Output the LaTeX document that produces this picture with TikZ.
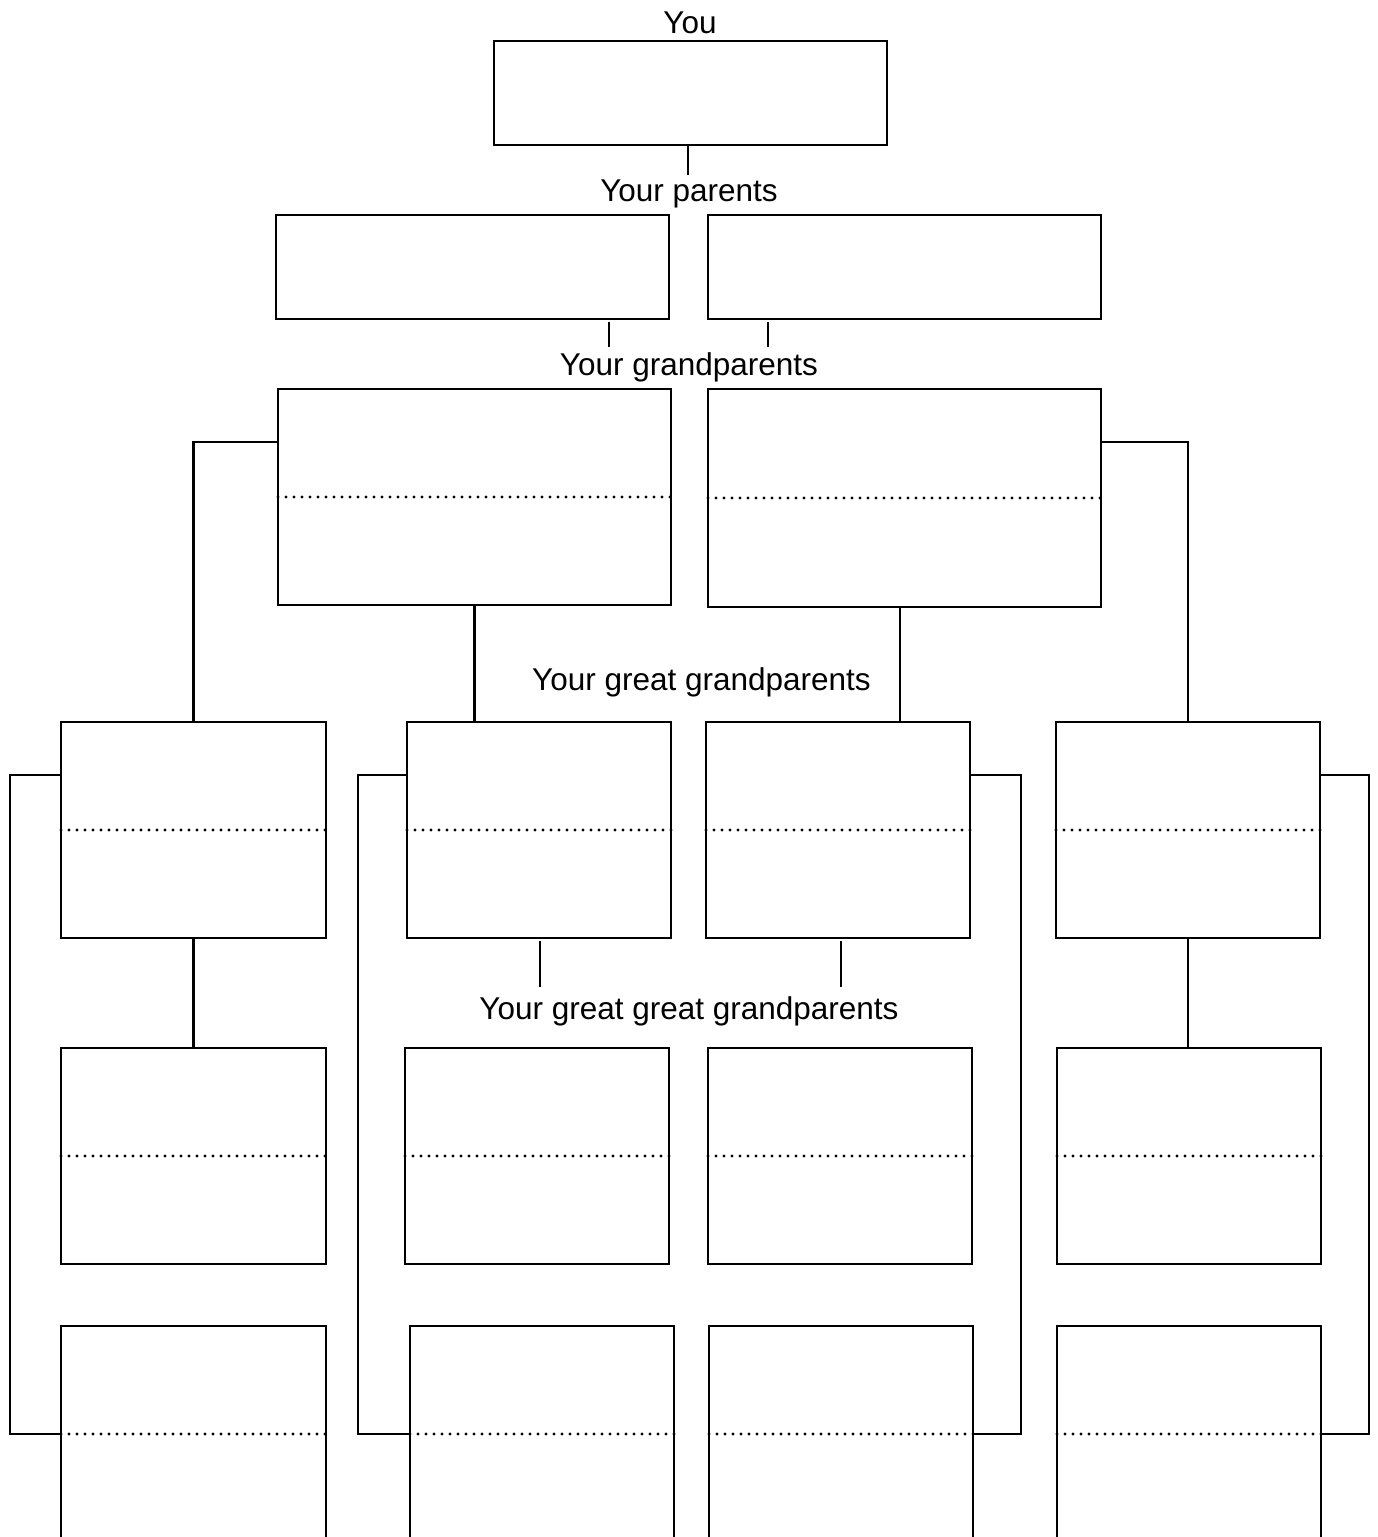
\documentclass[tikz,border=0pt]{standalone}
\usepackage{fontspec}
\setmainfont{Liberation Sans}
\begin{document}
\begin{tikzpicture}[x=1pt,y=-1pt,
  line width=2.6pt,
  box/.style={draw=black,line width=2.6pt,rectangle,inner sep=0pt,outer sep=0pt},
  bigbox/.style={box,minimum width=393pt,minimum height=104pt},
  midbox/.style={box,minimum width=393pt,minimum height=216pt},
  smallbox/.style={box,minimum width=264pt,minimum height=216pt},
  lbl/.style={anchor=base,inner sep=0pt,font=\fontsize{31.5pt}{36pt}\selectfont},
  dotline/.style={line width=3.2pt,line cap=round,dash pattern=on 0pt off 8pt},
  conn/.style={line width=2.6pt}]
\useasboundingbox (0,0) rectangle (1378,1537);
\clip (0,0) rectangle (1378,1537);
\fill[white] (0,0) rectangle (1378,1537);

% labels
\node[lbl] (tyou) at (690,33) {You};
\node[lbl] (tpar) at (689,201.5) {Your parents};
\node[lbl] (tgp) at (689,375.5) {Your grandparents};
\node[lbl] (tggp) at (701.5,690.5) {Your great grandparents};
\node[lbl] (tgggp) at (689,1019.5) {Your great great grandparents};

% you
\node[bigbox] (you) at (690.5,93) {};
% parents
\node[bigbox] (p1) at (472.5,267) {};
\node[bigbox] (p2) at (904.5,267) {};
% grandparents
\node[midbox] (g1) at (474.5,497) {};
\node[midbox,minimum height=218pt] (g2) at (904.5,498) {};
% great grandparents
\node[smallbox,minimum width=265pt] (gg1) at (193.5,830) {};
\node[smallbox] (gg2) at (539,830) {};
\node[smallbox] (gg3) at (838,830) {};
\node[smallbox] (gg4) at (1188,830) {};
% great great grandparents row 1
\node[smallbox,minimum width=265pt] (h1) at (193.5,1156) {};
\node[smallbox] (h2) at (537,1156) {};
\node[smallbox] (h3) at (840,1156) {};
\node[smallbox] (h4) at (1189,1156) {};
% row 2
\node[smallbox,minimum width=265pt] (r1) at (193.5,1434) {};
\node[smallbox] (r2) at (542,1434) {};
\node[smallbox] (r3) at (841,1434) {};
\node[smallbox] (r4) at (1189,1434) {};

% dotted lines
\draw[dotline] (g1.west) -- ([xshift=3pt]g1.east);
\draw[dotline] (g2.west) -- (g2.east);
\foreach \n in {gg1,gg2,gg3,gg4,h1,h2,h3,h4,r1,r2,r3,r4}
  \draw[dotline] (\n.west) -- (\n.east);

% free coordinates
\coordinate (c1) at (688,175);
\coordinate (t1a) at (609,322); \coordinate (t1b) at (609,347);
\coordinate (t2a) at (768,322); \coordinate (t2b) at (768,347);
\coordinate (ya) at (0,442);
\coordinate (yb) at (0,775);
\coordinate (xg2) at (900,0);
\coordinate (lx1) at (10,1000);
\coordinate (lx2) at (358,1000);
\coordinate (lx3) at (1021,1000);
\coordinate (lx4) at (1369,1000);
\coordinate (s1a) at (540,941); \coordinate (s1b) at (540,987);
\coordinate (s2a) at (841,941); \coordinate (s2b) at (841,987);

% connectors
\draw[conn] (you.south -| c1) -- (c1);
\draw[conn] (t1a) -- (t1b);
\draw[conn] (t2a) -- (t2b);
\draw[conn] (g1.west |- ya) -| (gg1.north);
\draw[conn] (g1.south) -- (g1.south |- gg2.north);
\draw[conn] (g2.south -| xg2) -- (gg3.north -| xg2);
\draw[conn] (g2.east |- ya) -| (gg4.north);
\draw[conn] (gg1.west |- yb) -| (lx1) |- (r1.west);
\draw[conn] (gg2.west |- yb) -| (lx2) |- (r2.west);
\draw[conn] (gg3.east |- yb) -| (lx3) |- (r3.east);
\draw[conn] (gg4.east |- yb) -| (lx4) |- (r4.east);
\draw[conn] (gg1.south) -- (h1.north);
\draw[conn] (gg4.south) -- (gg4.south |- h4.north);
\draw[conn] (s1a) -- (s1b);
\draw[conn] (s2a) -- (s2b);
\end{tikzpicture}
\end{document}
